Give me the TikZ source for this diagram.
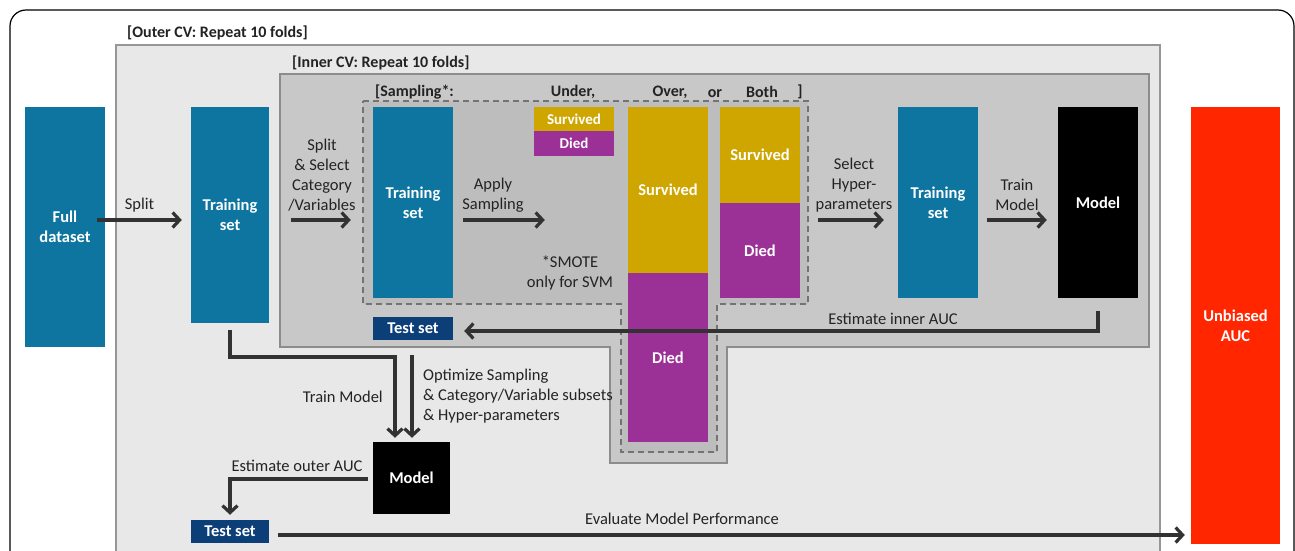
\documentclass[tikz,border=0pt]{standalone}
\usepackage{fontspec}
\setmainfont{Carlito}
\usetikzlibrary{arrows.meta}
\definecolor{cteal}{RGB}{14,117,160}
\definecolor{cnavy}{RGB}{12,62,120}
\definecolor{cyellow}{RGB}{207,166,0}
\definecolor{cpurple}{RGB}{155,48,150}
\definecolor{cred}{RGB}{255,38,0}
\definecolor{couter}{RGB}{232,232,232}
\definecolor{couterline}{RGB}{150,150,150}
\definecolor{cinner}{RGB}{200,200,200}
\definecolor{cinnerline}{RGB}{140,140,140}
\definecolor{csamp}{RGB}{189,189,189}
\definecolor{csampline}{RGB}{115,115,115}
\definecolor{carrow}{RGB}{50,50,50}
\definecolor{ctext}{RGB}{35,35,35}
\tikzset{
  box/.style={draw=none, inner sep=0pt, align=center, text=white,
    font=\bfseries\fontsize{16.5}{20}\selectfont},
  lbl/.style={inner sep=0pt, align=center, text=ctext,
    font=\fontsize{16.5}{20}\selectfont},
  hdr/.style={inner sep=0pt, anchor=west, text=ctext,
    font=\bfseries\fontsize{16}{20}\selectfont},
  arr/.style={draw=carrow, line width=3.2pt, -{Straight Barb[length=7pt,width=15pt]}},
  ln/.style={draw=carrow, line width=3.2pt}
}
\begin{document}
\begin{tikzpicture}[x=1pt,y=-1pt]
\useasboundingbox (0,0) rectangle (1295,551);
\clip (0,0) rectangle (1295,551);
\fill[white] (0,0) rectangle (1295,551);
% outer frame
\draw[line width=1.2pt, rounded corners=16pt] (10,10) rectangle (1294,620);
% outer CV box
\draw[fill=couter, draw=couterline, line width=1.5pt] (116,45) rectangle (1160,600);
\node[hdr] (outerlbl) at (127,33) {[Outer CV: Repeat 10 folds]};
% inner CV box
\draw[fill=cinner, draw=cinnerline, line width=1.5pt]
  (280,74) -- (1149,74) -- (1149,347) -- (727,347) -- (727,463) -- (610,463) -- (610,347) -- (280,347) -- cycle;
\node[hdr] (innerlbl) at (292,63) {[Inner CV: Repeat 10 folds]};
% sampling dashed box
\draw[fill=csamp, draw=csampline, line width=1.5pt, dash pattern=on 6pt off 4pt]
  (363,101) -- (808,101) -- (808,304) -- (717,304) -- (717,452) -- (621,452) -- (621,304) -- (363,304) -- cycle;
\node[hdr] (samplbl) at (375,92) {[Sampling*:};
\node[hdr, anchor=center] (underlbl) at (573,92) {Under,};
\node[hdr, anchor=center] (overlbl) at (670,92) {Over,};
\node[hdr, anchor=base] (orlbl) at (715,97.5) {or};
\node[hdr, anchor=center] (bothlbl) at (762,92) {Both};
\node[hdr, anchor=center] (closelbl) at (800,92) {]};

% boxes
\node[box, fill=cteal, minimum width=80pt, minimum height=240pt] (full) at (65,227) {Full\\dataset};
\node[box, fill=cteal, minimum width=78pt, minimum height=216pt] (train1) at (230,215) {Training\\set};
\node[box, fill=cteal, minimum width=80pt, minimum height=191pt] (train2) at (413,202.5) {Training\\set};
\node[box, fill=cyellow, minimum width=80pt, minimum height=24pt, font=\bfseries\fontsize{15}{18}\selectfont] (underS) at (574,119) {Survived};
\node[box, fill=cpurple, minimum width=80pt, minimum height=25pt, font=\bfseries\fontsize{15}{18}\selectfont] (underD) at (574,143.5) {Died};
\node[box, fill=cyellow, minimum width=80pt, minimum height=166pt] (overS) at (668,190) {Survived};
\node[box, fill=cpurple, minimum width=80pt, minimum height=169pt] (overD) at (668,357.5) {Died};
\node[box, fill=cyellow, minimum width=80pt, minimum height=96pt] (bothS) at (760,155) {Survived};
\node[box, fill=cpurple, minimum width=80pt, minimum height=95pt] (bothD) at (760,250.5) {Died};
\node[box, fill=cteal, minimum width=80pt, minimum height=191pt] (train3) at (938,202.5) {Training\\set};
\node[box, fill=black, minimum width=80pt, minimum height=191pt] (model1) at (1098,202.5) {Model};
\node[box, fill=cnavy, minimum width=80pt, minimum height=23pt] (test1) at (413,328.5) {Test set};
\node[box, fill=black, minimum width=77pt, minimum height=72pt] (model2) at (411.5,478) {Model};
\node[box, fill=cnavy, minimum width=78pt, minimum height=23pt] (test2) at (230,531.5) {Test set};
\node[box, fill=cred, minimum width=89pt, minimum height=437pt] (auc) at (1235.5,325.5) {Unbiased\\AUC};

\node[lbl] (smote) at (570,273) {*SMOTE\\only for SVM};

% arrows in top row
\draw[arr] ([xshift=-8pt]full.east |- 0,220) -- ([xshift=-9pt]train1.west |- 0,220) node[lbl, midway, above=6pt] (splitlbl) {Split};
\draw[arr] ([xshift=22pt]train1.east |- 0,220) -- ([xshift=-22pt]train2.west |- 0,220);
\node[lbl] (splitsel) at (322,175) {Split\\\&~Select\\Category\\/Variables};
\draw[arr] ([xshift=10pt]train2.east |- 0,220) -- ([xshift=11pt]underS.west |- 0,220);
\node[lbl] (applylbl) at (493,195) {Apply\\Sampling};
\draw[arr] ([xshift=18pt]bothD.east |- 0,220) -- ([xshift=-14pt]train3.west |- 0,220);
\node[lbl] (hyperlbl) at (854,185) {Select\\Hyper-\\parameters};
\draw[arr] ([xshift=9pt]train3.east |- 0,220) -- ([xshift=-11pt]model1.west |- 0,220);
\node[lbl] (trainlbl) at (1017,195) {Train\\Model};

% estimate inner AUC
\draw[arr] ([yshift=-13pt]model1.south) |- ([xshift=11pt]test1.east |- 0,331);
\node[lbl] (innerauc) at (893,319) {Estimate inner AUC};

% outer arrows
\draw[arr] ([yshift=-7pt]train1.south) |- (395,357) -- ([xshift=-16.5pt,yshift=4pt]model2.north);
\draw[arr] ([xshift=0.5pt,yshift=87pt]model2.north) -- ([xshift=0.5pt,yshift=4pt]model2.north);
\node[lbl, anchor=east] (trainmodel2) at (383,397) {Train Model};
\node[lbl, align=left, anchor=west] (optlbl) at (423,396) {Optimize Sampling\\\&~Category/Variable subsets\\\&~Hyper-parameters};

% estimate outer AUC
\draw[arr] ([xshift=-5pt]model2.west |- 0,479) -| ([yshift=5pt]test2.north);
\node[lbl] (outerauc) at (297,466) {Estimate outer AUC};

% evaluate
\draw[arr] ([xshift=9pt]test2.east |- 0,535) -- ([xshift=-6pt]auc.west |- 0,535);
\node[lbl] (evallbl) at (682,519) {Evaluate Model Performance};
\end{tikzpicture}
\end{document}
